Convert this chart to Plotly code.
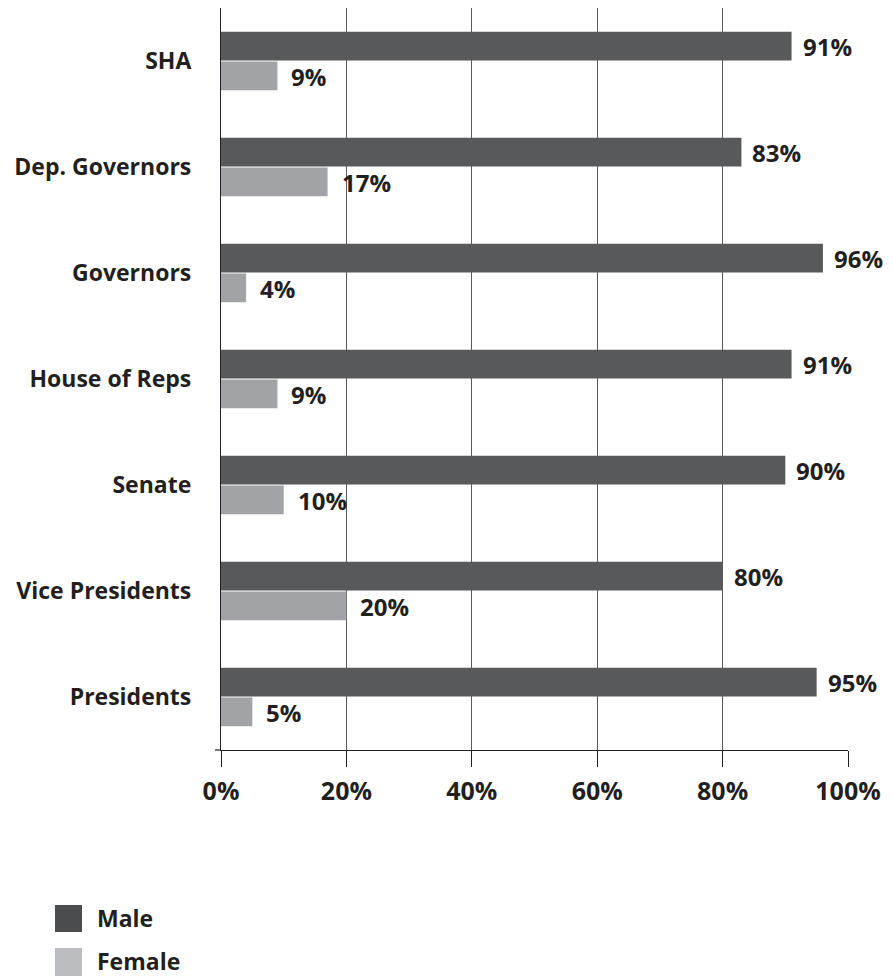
import plotly.graph_objects as go

categories = ["SHA", "Dep. Governors", "Governors", "House of Reps", "Senate", "Vice Presidents", "Presidents"]
male = [91, 83, 96, 91, 90, 80, 95]
female = [9, 17, 4, 9, 10, 20, 5]
x_ticks = [0, 20, 40, 60, 80, 100]
x_tick_labels = ["0%", "20%", "40%", "60%", "80%", "100%"]

MALE_C = "#58595b"
FEMALE_C = "#a2a3a6"
MALE_LEG = "#4b4c4e"
FEMALE_LEG = "#bcbdc0"
TXT = "#231f20"
FONT = "Open Sans"

fig = go.Figure()
fig.add_trace(go.Bar(y=categories, x=female, orientation="h", name="Female",
                     marker=dict(color=FEMALE_C, line=dict(width=0)), showlegend=False))
fig.add_trace(go.Bar(y=categories, x=male, orientation="h", name="Male",
                     marker=dict(color=MALE_C, line=dict(width=0)), showlegend=False))

annotations = []
for c, m, f in zip(categories, male, female):
    annotations.append(dict(x=m, y=c, xref="x", yref="y", text=f"{m}%", showarrow=False,
                            xanchor="left", yanchor="middle", xshift=9, yshift=15,
                            font=dict(family=FONT, size=24, color=TXT, weight="bold")))
    annotations.append(dict(x=f, y=c, xref="x", yref="y", text=f"{f}%", showarrow=False,
                            xanchor="left", yanchor="middle", xshift=12, yshift=-15,
                            font=dict(family=FONT, size=24, color=TXT, weight="bold")))

# legend (layout elements)
W, H = 627.0, 742.0
def px(x):
    return (x - 221) / W
def py(y):
    return (750 - y) / H

shapes = [
    dict(type="rect", xref="paper", yref="paper", x0=px(55), x1=px(82), y0=py(932), y1=py(905),
         fillcolor=MALE_LEG, line=dict(width=0)),
    dict(type="rect", xref="paper", yref="paper", x0=px(55), x1=px(82), y0=py(976), y1=py(948),
         fillcolor=FEMALE_LEG, line=dict(width=0)),
    dict(type="line", xref="paper", yref="paper", x0=px(215), x1=0, y0=0, y1=0,
         line=dict(color="#222", width=1.2)),
]
annotations.append(dict(x=px(95), y=py(918), xref="paper", yref="paper", text="Male", showarrow=False,
                        xanchor="left", yanchor="middle",
                        font=dict(family=FONT, size=23, color=TXT, weight="bold")))
annotations.append(dict(x=px(95), y=py(961), xref="paper", yref="paper", text="Female", showarrow=False,
                        xanchor="left", yanchor="middle",
                        font=dict(family=FONT, size=23, color=TXT, weight="bold")))

fig.update_layout(
    width=893, height=976,
    margin=dict(l=221, r=45, t=8, b=226),
    paper_bgcolor="white", plot_bgcolor="white",
    barmode="group", bargap=0.44, bargroupgap=0.03,
    annotations=annotations, shapes=shapes,
    showlegend=False,
    xaxis=dict(range=[0, 100], tickvals=x_ticks, ticktext=x_tick_labels,
               showgrid=True, gridcolor="#5a5a5a", gridwidth=1,
               showline=True, linecolor="#222", linewidth=1.2,
               ticks="outside", ticklen=16, tickcolor="#222", tickwidth=1,
               ticklabelstandoff=3,
               tickfont=dict(family=FONT, size=25, color=TXT, weight="bold"),
               zeroline=False, fixedrange=True),
    yaxis=dict(categoryorder="array", categoryarray=categories[::-1],
               showline=True, linecolor="#222", linewidth=1.2,
               showgrid=False, ticks="", ticklabelstandoff=24,
               tickfont=dict(family=FONT, size=23, color=TXT, weight="bold"),
               fixedrange=True),
)

fig.write_html("out.html")
